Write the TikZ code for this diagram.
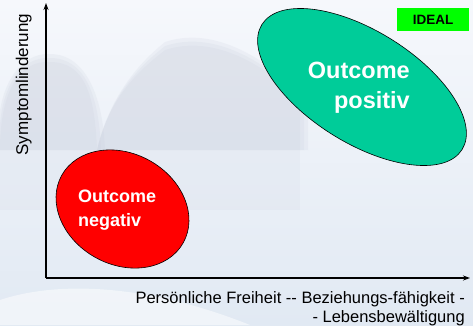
\documentclass[tikz,border=0pt]{standalone}
\usepackage{fontspec}
\setmainfont{Liberation Sans}
\usetikzlibrary{shapes.geometric,arrows.meta}
\definecolor{skytop}{HTML}{F6F8FC}
\definecolor{skymid}{HTML}{ECEFF6}
\definecolor{skybot}{HTML}{E1E9F3}
\definecolor{treecol}{HTML}{C9CFDD}
\definecolor{posgreen}{HTML}{00CC99}
\definecolor{idealgreen}{HTML}{00FF00}
\tikzset{
  axis/.style={line width=1.3pt,-{Stealth[length=7pt,width=5pt]}},
  blob/.style={ellipse,draw=black,line width=0.6pt,inner sep=0pt},
  blobtext/.style={text=white,font=\bfseries,inner sep=0pt},
  axislabel/.style={inner sep=0pt,font=\fontsize{16.5}{19}\selectfont},
  tree/.style={fill=treecol,opacity=0.18}
}
\begin{document}
\begin{tikzpicture}[x=1pt,y=-1pt]
\useasboundingbox (0,0) rectangle (473,325);
% background (misty landscape)
\shade[top color=skytop,middle color=skymid,bottom color=skybot] (0,0) rectangle (473,325);
\foreach \g in {0,4,8}{
  \fill[tree] (0,150) .. controls (0-\g,90) and (20,60-\g) .. (50,62-\g) .. controls (85,62-\g) and (95+\g,95) .. (97+\g,150) -- cycle;
  \fill[tree] (97,150) .. controls (110,95) and (140,70-\g) .. (165,50-\g) .. controls (210,35-\g) and (260,60-\g) .. (300+\g,100) -- (300+\g,150) -- cycle;
}
\fill[tree,opacity=0.15] (0,150) rectangle (300,210);
\fill[white,opacity=0.5] (0,300) .. controls (60,280) and (150,285) .. (250,325) -- (0,325) -- cycle;
% axes
\coordinate (O) at (46,278);
\coordinate (ytop) at (46,3);
\coordinate (xend) at (470,278);
\draw[axis] (O) -- (ytop);
\draw[axis] (O) -- (xend);
% ellipses
\node[blob,fill=red,minimum width=139pt,minimum height=111pt,rotate=-29] (neg) at (122.5,209) {};
\node[blob,fill=posgreen,minimum width=236pt,minimum height=112pt,rotate=-32] (pos) at (362,87) {};
\node[blobtext,align=left,anchor=north west,font=\bfseries\fontsize{18}{24}\selectfont] (negtext) at (78,190) {Outcome\\negativ};
\node[blobtext,align=right,anchor=north east,font=\bfseries\fontsize{23.5}{30}\selectfont] (postext) at (410,62) {Outcome\\positiv};
% ideal tag
\node[fill=idealgreen,minimum width=72pt,minimum height=23pt,inner sep=0pt,font=\bfseries\fontsize{13.5}{16}\selectfont] (ideal) at (433,19.5) {IDEAL};
% axis labels
\node[axislabel,rotate=90,anchor=base,font=\fontsize{17}{19}\selectfont] (ylabel) at (28,84.5) {Symptomlinderung};
\node[axislabel,align=right,anchor=north east] (xlabel) at (465,291) {Persönliche Freiheit -{}- Beziehungs-fähigkeit -\\- Lebensbewältigung};
\end{tikzpicture}
\end{document}
